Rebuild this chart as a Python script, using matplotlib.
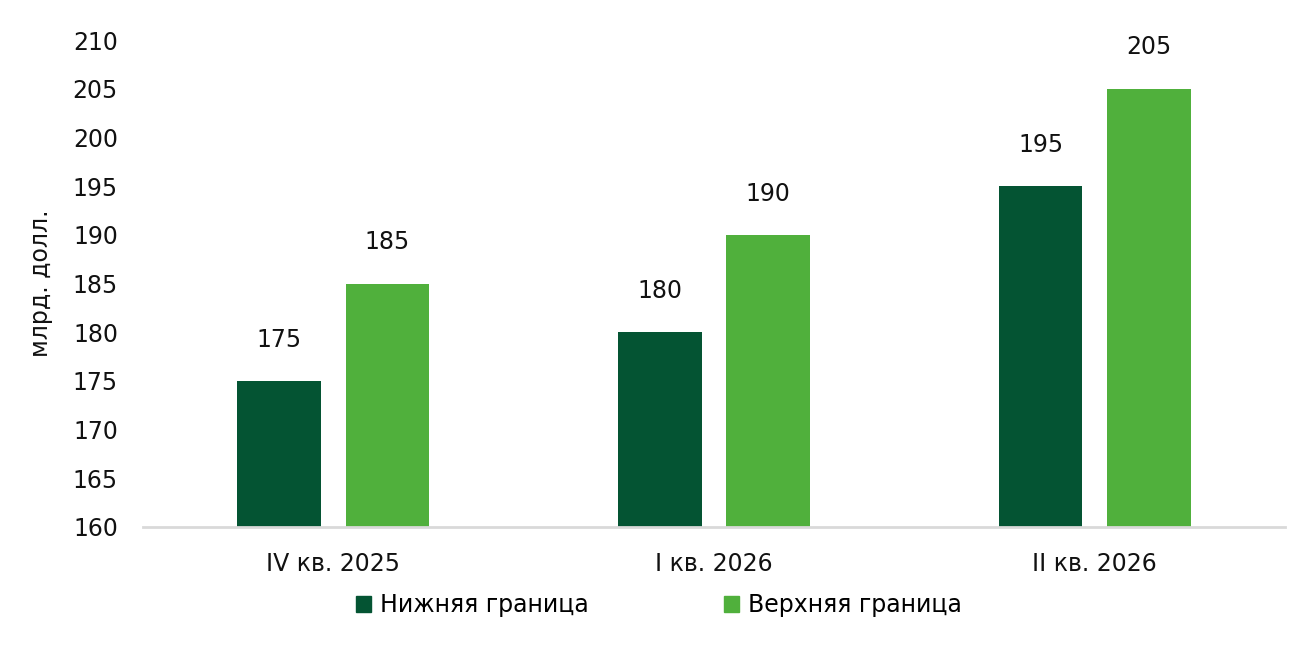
import numpy as np
import matplotlib.pyplot as plt
from matplotlib.patches import Patch

# Data
quarters = ["IV кв. 2025", "I кв. 2026", "II кв. 2026"]
lower = [175, 180, 195]
upper = [185, 190, 205]
series_names = ["Нижняя граница", "Верхняя граница"]

dark = "#045433"
light = "#50B03C"

plt.rcParams["font.family"] = ["DejaVu Sans"]

fig = plt.figure(figsize=(12.99, 6.55), dpi=100)
ax = fig.add_axes([143 / 1299, 1 - 527 / 655, 1142 / 1299, 487 / 655])

x = np.arange(len(quarters))
w = 0.22
off = 0.142
ax.bar(x - off, [v - 160 for v in lower], w, bottom=160, color=dark)
ax.bar(x + off, [v - 160 for v in upper], w, bottom=160, color=light)

fs = 17
for xi, v in zip(x, lower):
    ax.text(xi - off, v + 3.0, str(v), ha="center", va="bottom", fontsize=fs, color="#111111")
for xi, v in zip(x, upper):
    ax.text(xi + off, v + 3.0, str(v), ha="center", va="bottom", fontsize=fs, color="#111111")

ax.set_xlim(-0.5, 2.5)
ax.set_ylim(160, 210)
ax.set_yticks(range(160, 211, 5))
ax.set_xticks(x)
ax.set_xticklabels(quarters)
ax.tick_params(axis="y", length=0, pad=18, labelsize=fs, labelcolor="#111111")
ax.tick_params(axis="x", length=0, pad=18, labelsize=fs, labelcolor="#111111")

for s in ["top", "right", "left"]:
    ax.spines[s].set_visible(False)
ax.spines["bottom"].set_color("#D9D9D9")
ax.spines["bottom"].set_linewidth(2)

ax.set_ylabel("млрд. долл.", fontsize=17, color="#111111", labelpad=14)

handles = [Patch(color=dark, label=series_names[0]), Patch(color=light, label=series_names[1])]
fig.legend(handles=handles, loc="center", bbox_to_anchor=(659 / 1299, 1 - 605 / 655),
           ncol=2, frameon=False, fontsize=fs, handlelength=0.64, handleheight=0.64,
           handletextpad=0.38, columnspacing=5.7)

fig.savefig("out.png", dpi=100)
